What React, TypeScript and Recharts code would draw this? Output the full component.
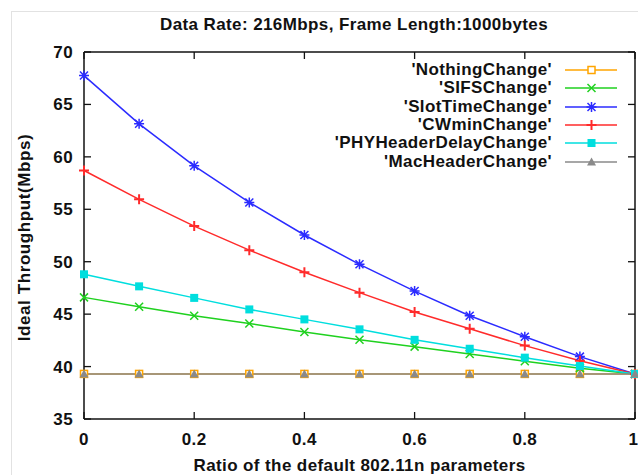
import React from 'react';
import { LineChart, Line, XAxis, YAxis, Legend, Label, ReferenceLine } from 'recharts';

const ratios = [0, 0.1, 0.2, 0.3, 0.4, 0.5, 0.6, 0.7, 0.8, 0.9, 1];
const nothingChange = [39.3, 39.3, 39.3, 39.3, 39.3, 39.3, 39.3, 39.3, 39.3, 39.3, 39.3];
const sifsChange = [46.6, 45.7, 44.85, 44.1, 43.3, 42.55, 41.9, 41.2, 40.5, 39.85, 39.3];
const slotTimeChange = [67.75, 63.15, 59.15, 55.65, 52.55, 49.75, 47.2, 44.85, 42.85, 40.95, 39.3];
const cwminChange = [58.7, 55.95, 53.4, 51.1, 49.0, 47.05, 45.2, 43.6, 42.0, 40.55, 39.3];
const phyHeaderDelayChange = [48.8, 47.65, 46.55, 45.45, 44.5, 43.55, 42.55, 41.7, 40.85, 40.05, 39.3];
const macHeaderChange = [39.3, 39.3, 39.3, 39.3, 39.3, 39.3, 39.3, 39.3, 39.3, 39.3, 39.3];

const xTicks = [0, 0.2, 0.4, 0.6, 0.8, 1];
const yTicks = [35, 40, 45, 50, 55, 60, 65, 70];
const xDomain = [0, 1];
const yDomain = [35, 70];

const series = [
  { key: 'nothing', name: "'NothingChange'", values: nothingChange, color: '#ffa500', shape: 'openSquare' },
  { key: 'sifs', name: "'SIFSChange'", values: sifsChange, color: '#1fd11f', shape: 'cross' },
  { key: 'slot', name: "'SlotTimeChange'", values: slotTimeChange, color: '#2b2bff', shape: 'star' },
  { key: 'cwmin', name: "'CWminChange'", values: cwminChange, color: '#ff2b2b', shape: 'plus' },
  { key: 'phy', name: "'PHYHeaderDelayChange'", values: phyHeaderDelayChange, color: '#00dede', shape: 'filledSquare' },
  { key: 'mac', name: "'MacHeaderChange'", values: macHeaderChange, color: '#8a8a8a', shape: 'triangle' },
];

const data = ratios.map((r, i) => {
  const row: Record<string, number> = { ratio: r };
  series.forEach((s) => { row[s.key] = s.values[i]; });
  return row;
});

const FONT = '"Liberation Sans", Arial, sans-serif';
const W = 638;
const H = 475;
const M = { top: 52, right: 3, bottom: 56, left: 84 };
const TICK = 7; // px, inward tick length

// tick length expressed in data units of each axis
const plotW = W - M.left - M.right;
const plotH = H - M.top - M.bottom;
const xTickLen = ((xDomain[1] - xDomain[0]) * TICK) / plotW;
const yTickLen = ((yDomain[1] - yDomain[0]) * TICK) / plotH;

function Marker({ shape, color, cx, cy }: { shape: string; color: string; cx: number; cy: number }) {
  const sw = 1.5;
  switch (shape) {
    case 'openSquare':
      return <rect x={cx - 3.5} y={cy - 3.5} width={7} height={7} fill="#fff" stroke={color} strokeWidth={sw} />;
    case 'cross':
      return <path d={`M${cx - 4},${cy - 4}L${cx + 4},${cy + 4}M${cx - 4},${cy + 4}L${cx + 4},${cy - 4}`} stroke={color} strokeWidth={sw} />;
    case 'star':
      return (
        <path
          d={`M${cx - 5},${cy}L${cx + 5},${cy}M${cx},${cy - 5}L${cx},${cy + 5}M${cx - 4},${cy - 4}L${cx + 4},${cy + 4}M${cx - 4},${cy + 4}L${cx + 4},${cy - 4}`}
          stroke={color}
          strokeWidth={sw}
        />
      );
    case 'plus':
      return <path d={`M${cx - 5},${cy}L${cx + 5},${cy}M${cx},${cy - 5}L${cx},${cy + 5}`} stroke={color} strokeWidth={sw + 0.5} />;
    case 'filledSquare':
      return <rect x={cx - 4} y={cy - 4} width={8} height={8} fill={color} />;
    case 'triangle':
      return <polygon points={`${cx},${cy - 4.5} ${cx - 4.5},${cy + 3.5} ${cx + 4.5},${cy + 3.5}`} fill={color} />;
    default:
      return null;
  }
}

const LegendBox = () => (
  <div style={{ fontFamily: FONT, fontSize: 17, fontWeight: 'bold', letterSpacing: 0.4, color: '#111' }}>
    {series.map((s) => (
      <div key={s.key} style={{ display: 'flex', alignItems: 'center', height: 18.33 }}>
        <span style={{ width: 252, textAlign: 'right', lineHeight: '18px', whiteSpace: 'nowrap' }}>{s.name}</span>
        <svg width={52} height={18} style={{ marginLeft: 13 }}>
          <line x1={0} y1={9} x2={52} y2={9} stroke={s.color} strokeWidth={1.5} />
          <Marker shape={s.shape} color={s.color} cx={26.5} cy={9} />
        </svg>
      </div>
    ))}
  </div>
);

const tickStyle = { fill: '#111', fontSize: 17, fontWeight: 'bold' as const, fontFamily: FONT };

export default function App() {
  return (
    <div style={{ position: 'absolute', left: 0, top: 0, width: W, height: H, background: '#fff', overflow: 'hidden' }}>
      <div style={{ position: 'absolute', left: 11, top: 11, right: 0, bottom: 0, borderLeft: '1px solid #e2e2e2', borderTop: '1px solid #e2e2e2' }} />
      <div
        style={{
          position: 'absolute', left: 0, top: 15, width: 708, textAlign: 'center',
          fontFamily: FONT, fontSize: 17, fontWeight: 'bold', letterSpacing: 0.4, lineHeight: '20px', color: '#111',
        }}
      >
        Data Rate: 216Mbps, Frame Length:1000bytes
      </div>
      <LineChart
        width={W}
        height={H}
        data={data}
        margin={{ top: M.top, right: M.right, bottom: 0, left: 0 }}
        style={{ position: 'absolute', left: 0, top: 0, fontFamily: FONT, letterSpacing: 0.4 }}
      >
        <XAxis
          dataKey="ratio"
          type="number"
          domain={xDomain}
          ticks={xTicks}
          tickFormatter={(v) => String(v)}
          height={M.bottom}
          tickMargin={8}
          stroke="#111"
          axisLine={{ strokeWidth: 1.5 }}
          tickLine={false}
          tick={tickStyle}
        >
          <Label
            value="Ratio of the default 802.11n parameters"
            position="insideBottom"
            offset={4}
            style={{ fill: '#111', fontSize: 17, fontWeight: 'bold', fontFamily: FONT }}
          />
        </XAxis>
        <YAxis
          type="number"
          domain={yDomain}
          ticks={yTicks}
          width={M.left}
          tickMargin={5}
          stroke="#111"
          axisLine={{ strokeWidth: 1.5 }}
          tickLine={false}
          tick={tickStyle}
        >
          <Label
            position="insideLeft"
            content={() => (
              <text
                transform="translate(30,237.5) rotate(-90)"
                textAnchor="middle"
                fill="#111"
                style={{ fontSize: 17, fontWeight: 'bold', fontFamily: FONT, letterSpacing: 0.6 }}
              >
                Ideal Throughput(Mbps)
              </text>
            )}
          />
        </YAxis>
        {/* top and right border of the frame */}
        <XAxis xAxisId="tm" dataKey="ratio" type="number" orientation="top" domain={xDomain} mirror height={10}
          stroke="#111" tick={false} tickLine={false} axisLine={{ strokeWidth: 1.5 }} />
        <YAxis yAxisId="rm" orientation="right" type="number" domain={yDomain} mirror width={10}
          stroke="#111" tick={false} tickLine={false} axisLine={{ strokeWidth: 1.5 }} />

        {/* inward tick marks on all four sides */}
        {xTicks.map((t) => (
          <ReferenceLine key={`xb-${t}`} segment={[{ x: t, y: yDomain[0] }, { x: t, y: yDomain[0] + yTickLen }]}
            stroke="#111" strokeWidth={1.3} />
        ))}
        {xTicks.map((t) => (
          <ReferenceLine key={`xt-${t}`} segment={[{ x: t, y: yDomain[1] }, { x: t, y: yDomain[1] - yTickLen }]}
            stroke="#111" strokeWidth={1.3} />
        ))}
        {yTicks.map((t) => (
          <ReferenceLine key={`yl-${t}`} segment={[{ x: xDomain[0], y: t }, { x: xDomain[0] + xTickLen, y: t }]}
            stroke="#111" strokeWidth={1.3} />
        ))}
        {yTicks.map((t) => (
          <ReferenceLine key={`yr-${t}`} segment={[{ x: xDomain[1], y: t }, { x: xDomain[1] - xTickLen, y: t }]}
            stroke="#111" strokeWidth={1.3} />
        ))}

        <Legend
          layout="vertical"
          align="center"
          verticalAlign="middle"
          content={() => <LegendBox />}
          wrapperStyle={{ position: 'absolute', left: 300, top: 61, width: 330, height: 112 }}
        />
        {series.map((s) => (
          <Line
            key={s.key}
            dataKey={s.key}
            name={s.name}
            stroke={s.color}
            strokeWidth={1.5}
            isAnimationActive={false}
            dot={(p: any) => (
              <g key={`${s.key}-${p.index}`}>
                <Marker shape={s.shape} color={s.color} cx={p.cx} cy={p.cy} />
              </g>
            )}
            activeDot={false}
          />
        ))}
      </LineChart>
    </div>
  );
}
